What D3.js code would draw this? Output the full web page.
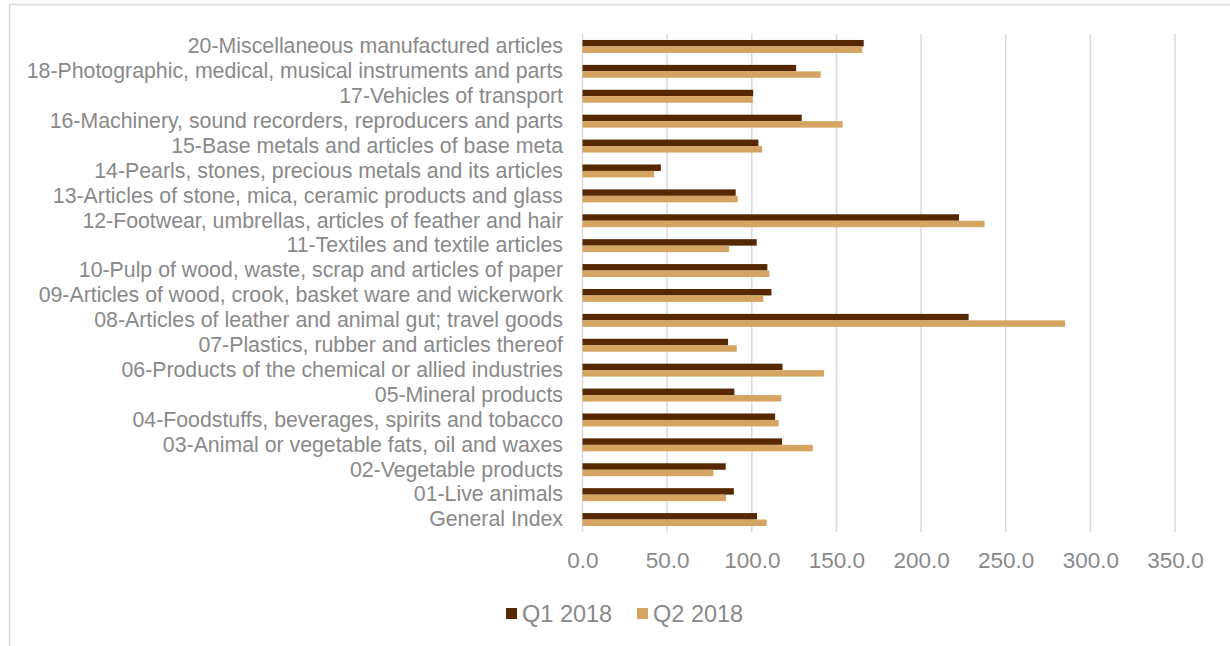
<!DOCTYPE html>
<html>
<head>
<meta charset="utf-8">
<script src="https://cdn.jsdelivr.net/npm/d3@7"></script>
<style>
    body { margin: 0; background: #fff; }
    text { font-family: "Liberation Sans", Arial, sans-serif; fill: #898989; }
</style>
</head>
<body>
<div id="chart"></div>
<script>
let width = 1230;
let height = 646;

// categories top to bottom as shown
let categories = [
    "20-Miscellaneous manufactured articles",
    "18-Photographic, medical, musical instruments and parts",
    "17-Vehicles of transport",
    "16-Machinery, sound recorders, reproducers and parts",
    "15-Base metals and articles of base meta",
    "14-Pearls, stones, precious metals and its articles",
    "13-Articles of stone, mica, ceramic products and glass",
    "12-Footwear, umbrellas, articles of feather and hair",
    "11-Textiles and textile articles",
    "10-Pulp of wood, waste, scrap and articles of paper",
    "09-Articles of wood, crook, basket ware and wickerwork",
    "08-Articles of leather and animal gut; travel goods",
    "07-Plastics, rubber and articles thereof",
    "06-Products of the chemical or allied industries",
    "05-Mineral products",
    "04-Foodstuffs, beverages, spirits and tobacco",
    "03-Animal or vegetable fats, oil and waxes",
    "02-Vegetable products",
    "01-Live animals",
    "General Index"
];

let q1 = [166.1, 126.2, 100.8, 129.5, 103.9, 46.3, 90.5, 222.4, 102.9, 109.2,
    111.6, 228.1, 86.0, 118.1, 89.7, 113.8, 117.9, 84.6, 89.4, 103.1];
let q2 = [165.3, 140.7, 100.6, 153.7, 106.1, 42.3, 91.7, 237.5, 86.6, 110.4,
    106.8, 285.1, 91.1, 142.7, 117.5, 115.9, 136.0, 77.3, 84.8, 108.8];

let seriesNames = ["Q1 2018", "Q2 2018"];
let seriesColors = ["#552800", "#d5a461"];
let tickValues = [0, 50, 100, 150, 200, 250, 300, 350];

let svg = d3.select("#chart")
    .append("svg")
    .attr("width", width)
    .attr("height", height);

// chart area border
svg.append("rect")
    .attr("x", 9.5)
    .attr("y", 4.5)
    .attr("width", 1240)
    .attr("height", 700)
    .style("fill", "none")
    .style("stroke", "#d9d9d9")
    .style("stroke-width", 1.5);

let xScale = d3.scaleLinear()
    .domain([0, 350])
    .range([582.5, 1175]);

let yScale = d3.scaleBand()
    .domain(categories)
    .range([34, 532])
    .paddingInner(0.48)
    .paddingOuter(0.24);

let inner = d3.scaleBand()
    .domain(seriesNames)
    .range([0, yScale.bandwidth()]);

// gridlines
svg.append("g")
    .selectAll("line")
    .data(tickValues)
    .join("line")
    .attr("x1", d => xScale(d))
    .attr("x2", d => xScale(d))
    .attr("y1", 34)
    .attr("y2", 532)
    .style("stroke", "#d9d9d9")
    .style("stroke-width", 1.5);

// x axis labels
let xAxis = d3.axisBottom(xScale)
    .tickValues(tickValues)
    .tickSize(0)
    .tickPadding(0)
    .tickFormat(d3.format(".1f"));

let xg = svg.append("g")
    .attr("transform", "translate(0, 552)")
    .call(xAxis);
xg.select(".domain").remove();
xg.selectAll("text")
    .style("font-size", "22.5px")
    .style("fill", "#898989")
    .style("font-family", "Liberation Sans, Arial, sans-serif");

// y axis labels
let yAxis = d3.axisLeft(yScale)
    .tickSize(0)
    .tickPadding(0);

let yg = svg.append("g")
    .attr("transform", "translate(563, 0)")
    .call(yAxis);
yg.select(".domain").remove();
yg.selectAll("text")
    .style("font-size", "21.3px")
    .style("fill", "#898989")
    .style("font-family", "Liberation Sans, Arial, sans-serif");

// bars
let rows = categories.map((c, i) => ({ cat: c, values: [q1[i], q2[i]] }));

let groups = svg.append("g")
    .selectAll("g")
    .data(rows)
    .join("g")
    .attr("transform", d => "translate(0, " + yScale(d.cat) + ")");

groups.selectAll("rect")
    .data(d => d.values.map((v, j) => ({ name: seriesNames[j], value: v, color: seriesColors[j] })))
    .join("rect")
    .attr("x", xScale(0))
    .attr("y", d => inner(d.name))
    .attr("width", d => xScale(d.value) - xScale(0))
    .attr("height", inner.bandwidth())
    .style("fill", d => d.color);

// legend
let legendX = [506, 637];
let legend = svg.append("g")
    .selectAll("g")
    .data(seriesNames)
    .join("g")
    .attr("transform", (d, i) => "translate(" + legendX[i] + ", 608)");

legend.append("rect")
    .attr("width", 11)
    .attr("height", 11)
    .style("fill", (d, i) => seriesColors[i]);

legend.append("text")
    .attr("x", 16)
    .attr("y", 14)
    .style("font-size", "23.5px")
    .text(d => d);
</script>
</body>
</html>
